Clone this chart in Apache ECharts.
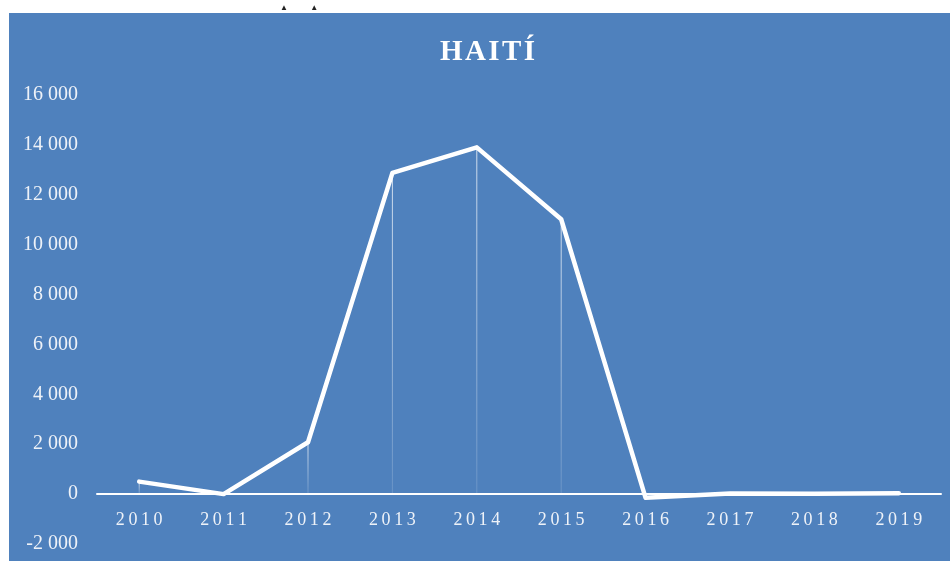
<!DOCTYPE html>
<html>
<head>
<meta charset="utf-8">
<script src="https://cdn.jsdelivr.net/npm/echarts@6/dist/echarts.min.js"></script>
<style>
  html, body { margin: 0; padding: 0; background: #fff; }
  #main { width: 950px; height: 561px; }
</style>
</head>
<body>
<div id="main"></div>
<script>
// 年份
var years = ['2010', '2011', '2012', '2013', '2014', '2015', '2016', '2017', '2018', '2019'];
// 数值
var values = [500, 0, 2080, 12880, 13900, 11020, -150, 20, 10, 30];
// 纵轴刻度
var yMin = -2000;
var yMax = 16000;
var yStep = 2000;

var myChart = echarts.init(document.getElementById('main'));

// 千分位用空格
function fmtNum(v) {
    var s = String(Math.abs(v)).replace(/\B(?=(\d{3})+(?!\d))/g, ' ');
    return (v < 0 ? '-' : '') + s;
}

// 字母间距
function spaced(s, sp) {
    return s.split('').join(sp || '\u2009');
}

var option = {
    backgroundColor: '#ffffff',
    animation: false,
    graphic: [{
        type: 'rect',
        z: -10,
        shape: { x: 9, y: 13, width: 941, height: 548 },
        style: { fill: '#4f81bd' }
    }, {
        type: 'text',
        z: 10,
        left: 280,
        top: 4,
        style: { text: '\u25B2          \u25B2', fill: '#222', font: '8px sans-serif' }
    }],
    title: {
        text: spaced('HAITÍ', '\u200A'),
        left: 435,
        top: 33,
        textStyle: {
            color: '#ffffff',
            fontFamily: 'Liberation Serif',
            fontWeight: 'bold',
            fontSize: 29
        }
    },
    grid: {
        left: 97,
        right: 9,
        top: 95,
        bottom: 17,
        outerBoundsMode: 'none',
        containLabel: false
    },
    xAxis: {
        type: 'category',
        data: years,
        boundaryGap: true,
        axisLine: { show: true, onZero: true, lineStyle: { color: '#ffffff', width: 2 } },
        axisTick: { show: false },
        axisLabel: {
            color: '#eef2f8',
            fontFamily: 'Liberation Serif',
            fontSize: 18,
            margin: -33,
            formatter: function(v) { return spaced(v); }
        },
        splitLine: { show: false }
    },
    yAxis: {
        type: 'value',
        min: yMin,
        max: yMax,
        interval: yStep,
        axisLine: { show: false },
        axisTick: { show: false },
        splitLine: { show: false },
        axisLabel: {
            color: '#eef2f8',
            fontFamily: 'Liberation Serif',
            fontSize: 20,
            margin: 19,
            formatter: fmtNum
        }
    },
    series: [{
        // 垂线
        name: 'drop',
        type: 'bar',
        barWidth: 1,
        data: values,
        silent: true,
        itemStyle: {
            color: new echarts.graphic.LinearGradient(0, 0, 0, 1, [
                { offset: 0, color: 'rgba(255,255,255,0.75)' },
                { offset: 1, color: 'rgba(255,255,255,0.15)' }
            ])
        },
        z: 1
    }, {
        name: 'HAITÍ',
        type: 'line',
        data: values,
        symbol: 'none',
        lineStyle: { color: '#ffffff', width: 4.5, join: 'round', cap: 'round' },
        z: 3
    }]
};

myChart.setOption(option);
</script>
</body>
</html>
